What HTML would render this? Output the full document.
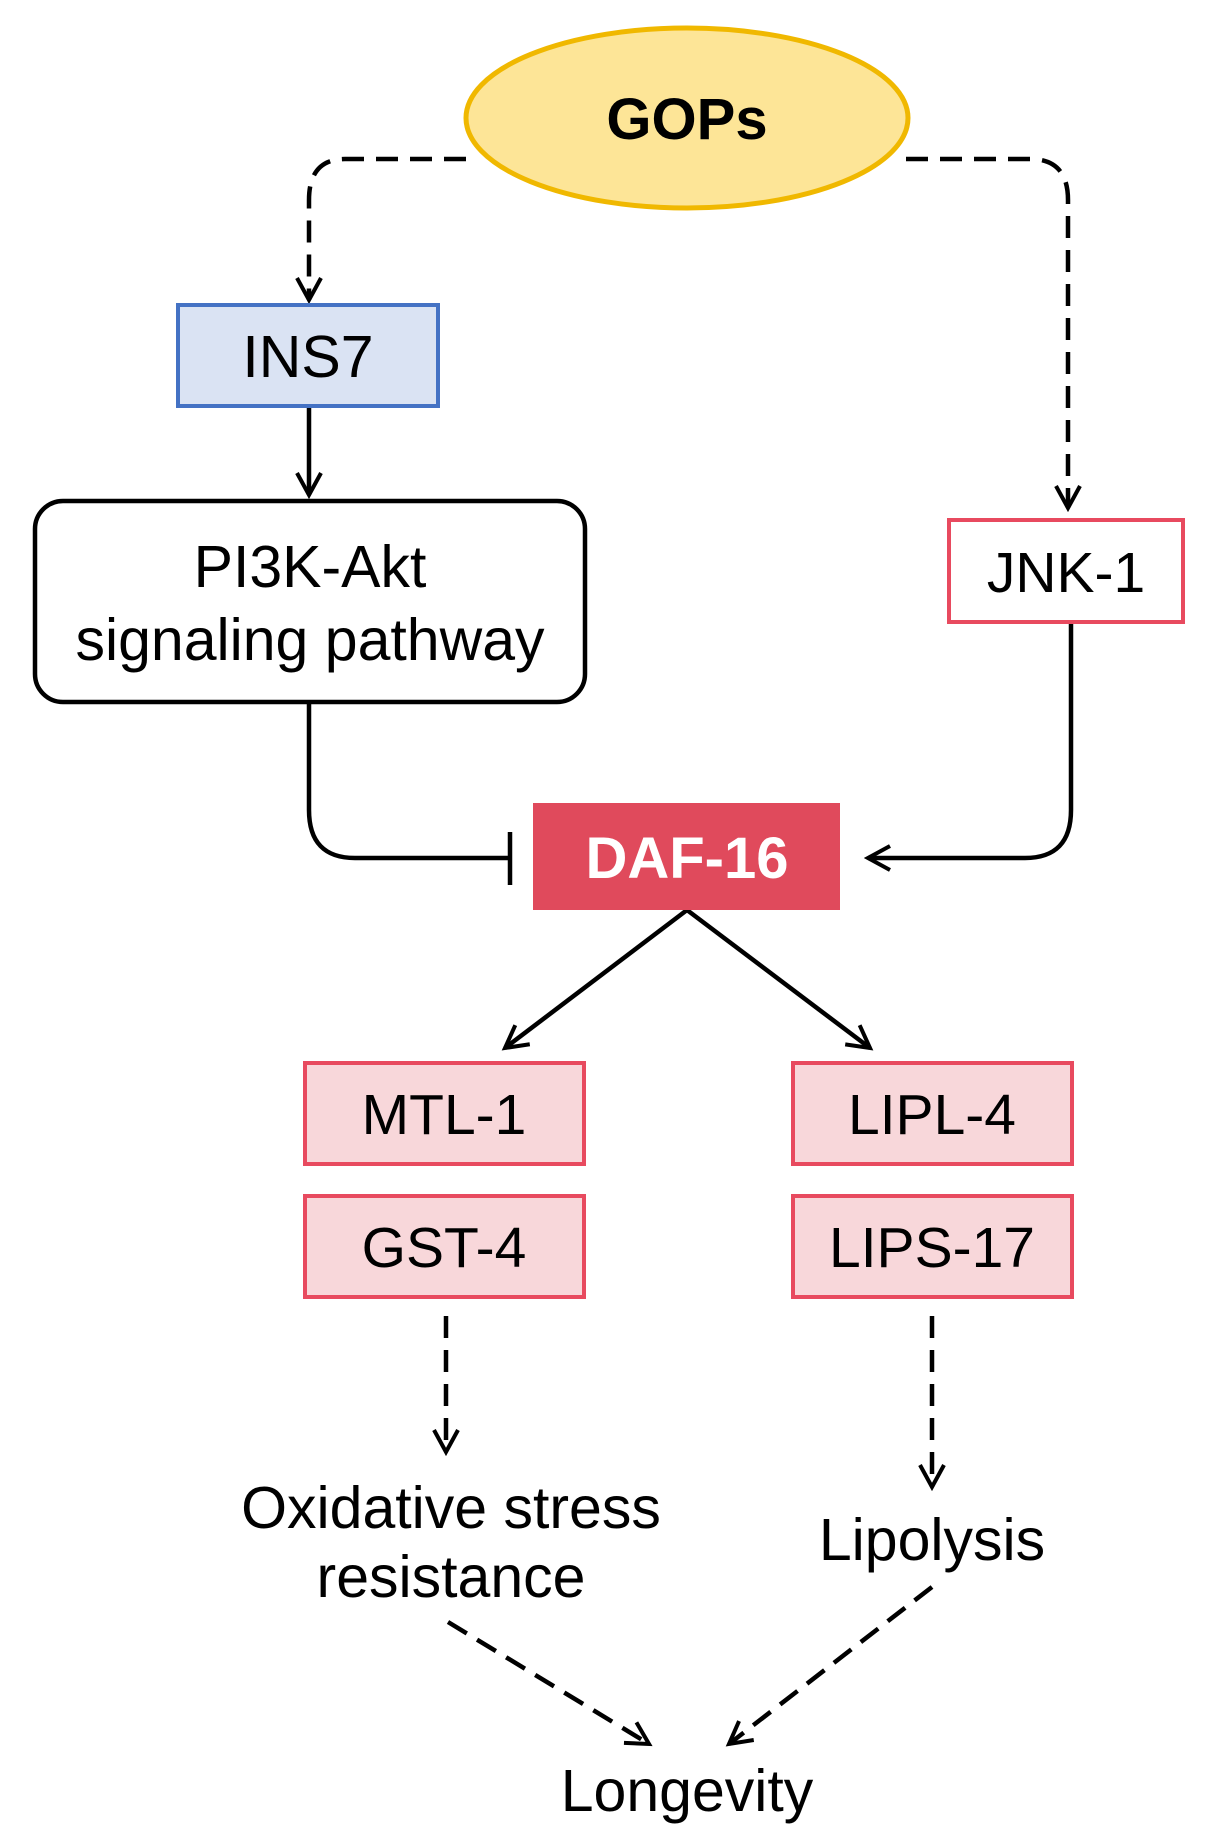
<!DOCTYPE html>
<html><head><meta charset="utf-8"><style>
html,body{margin:0;padding:0;background:#fff;}
svg{display:block;}
text{font-family:"Liberation Sans",Arial,sans-serif;}
</style></head><body>
<svg width="1208" height="1848" viewBox="0 0 1208 1848" xmlns="http://www.w3.org/2000/svg">
<defs>
<marker id="b" markerWidth="30" markerHeight="30" refX="26" refY="15" orient="auto" markerUnits="userSpaceOnUse" viewBox="0 0 30 30">
<path d="M4,3 L26,15 L4,27" fill="none" stroke="#000" stroke-width="4"/>
</marker>
</defs>
<g fill="none" stroke="#000" stroke-width="4.5">
<path d="M466,159 H345 Q309,159 309,200 V300" stroke-dasharray="22,12" marker-end="url(#b)"/>
<path d="M906,159 H1030 Q1068,159 1068,200 V508" stroke-dasharray="22,12" marker-end="url(#b)"/>
<path d="M309,407 V495" marker-end="url(#b)"/>
<path d="M309,703 V810 Q309,858 355,858 H510"/>
<path d="M510,832 V885"/>
<path d="M1071,623 V810 Q1071,858 1025,858 H868" marker-end="url(#b)"/>
<path d="M687,910 L505,1048" marker-end="url(#b)"/>
<path d="M687,910 L870,1048" marker-end="url(#b)"/>
<path d="M446,1316 V1452" stroke-dasharray="22,12" marker-end="url(#b)"/>
<path d="M932,1316 V1487" stroke-dasharray="22,12" marker-end="url(#b)"/>
<path d="M448,1622 L649,1744" stroke-dasharray="22,12" marker-end="url(#b)"/>
<path d="M932,1587 L729,1744" stroke-dasharray="22,12" marker-end="url(#b)"/>
</g>
<ellipse cx="687" cy="118" rx="221" ry="90" fill="#fde597" stroke="#f0b800" stroke-width="5"/>
<text x="687" y="139" font-size="58" font-weight="bold" text-anchor="middle">GOPs</text>
<rect x="178" y="305" width="260" height="101" fill="#dae3f3" stroke="#4472c4" stroke-width="4"/>
<text x="308" y="377" font-size="59" text-anchor="middle">INS7</text>
<rect x="35" y="501" width="550" height="201" rx="28" fill="#fff" stroke="#000" stroke-width="4.5"/>
<text x="310" y="587" font-size="59" text-anchor="middle">PI3K-Akt</text>
<text x="310" y="660" font-size="59" text-anchor="middle">signaling pathway</text>
<rect x="949" y="520" width="234" height="102" fill="#fff" stroke="#e84a5f" stroke-width="4"/>
<text x="1066" y="592" font-size="57" text-anchor="middle">JNK-1</text>
<rect x="533" y="803" width="307" height="107" fill="#e04a5c"/>
<text x="687" y="878" font-size="58" font-weight="bold" fill="#fff" text-anchor="middle">DAF-16</text>
<g fill="#f8d7da" stroke="#e84a5f" stroke-width="4">
<rect x="305" y="1063" width="279" height="101"/>
<rect x="305" y="1196" width="279" height="101"/>
<rect x="793" y="1063" width="279" height="101"/>
<rect x="793" y="1196" width="279" height="101"/>
</g>
<g font-size="57" text-anchor="middle">
<text x="444" y="1134">MTL-1</text>
<text x="444" y="1267">GST-4</text>
<text x="932" y="1134">LIPL-4</text>
<text x="932" y="1267">LIPS-17</text>
</g>
<g font-size="59" text-anchor="middle">
<text x="451" y="1528">Oxidative stress</text>
<text x="451" y="1597">resistance</text>
<text x="932" y="1560">Lipolysis</text>
<text x="687" y="1811">Longevity</text>
</g>
</svg>
</body></html>
